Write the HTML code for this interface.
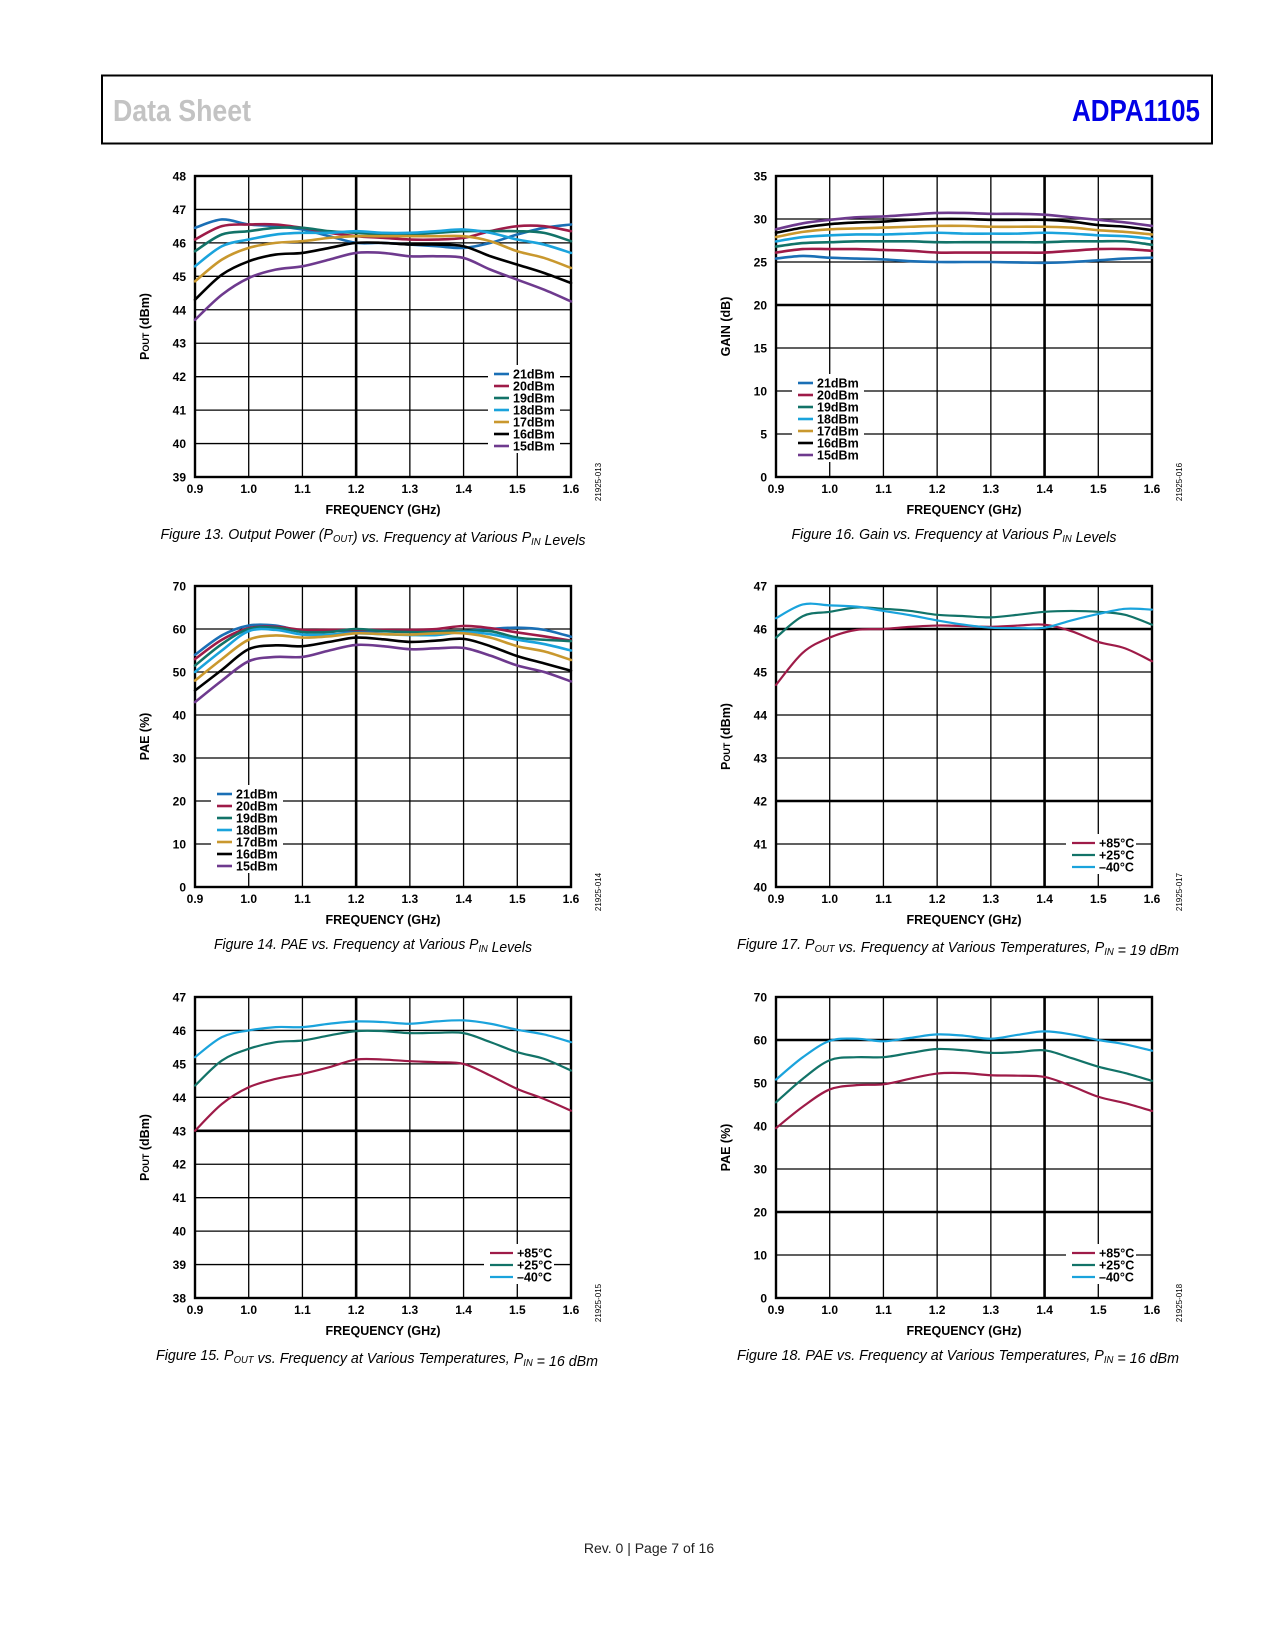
<!DOCTYPE html>
<html><head><meta charset="utf-8"><title>ADPA1105 Data Sheet page 7</title>
<style>
html,body{margin:0;padding:0;background:#fff;}
svg{display:block;}
text{font-family:"Liberation Sans",Arial,sans-serif;}
</style></head>
<body>
<svg id="page" width="1275" height="1650" viewBox="0 0 1275 1650" xmlns="http://www.w3.org/2000/svg">
<rect x="102" y="75.5" width="1110" height="68" fill="#fff" stroke="#000" stroke-width="2"/>
<text x="113" y="121" font-size="31" font-weight="bold" fill="#c3c3c3" textLength="138" lengthAdjust="spacingAndGlyphs">Data Sheet</text>
<text x="1200" y="121" font-size="31" font-weight="bold" fill="#0000e6" text-anchor="end" textLength="128" lengthAdjust="spacingAndGlyphs">ADPA1105</text>
<text x="649" y="1553" font-size="14" text-anchor="middle" fill="#222">Rev. 0 | Page 7 of 16</text>
<g id="charts"></g>
</svg>
<script>
const freqs = [0.9,0.95,1.0,1.05,1.1,1.15,1.2,1.25,1.3,1.35,1.4,1.45,1.5,1.55,1.6];
const xTicks = ["0.9","1.0","1.1","1.2","1.3","1.4","1.5","1.6"];
const pinLabels = ["21dBm","20dBm","19dBm","18dBm","17dBm","16dBm","15dBm"];
const tempLabels = ["+85°C","+25°C","–40°C"];
const pinColors = ["#1a6fb5","#9e1b48","#127368","#1aa3dc","#c9982e","#000000","#6e3a8e"];
const tempColors = ["#9e1b48","#127368","#1aa3dc"];

const pout21 = [46.45,46.7,46.55,46.5,46.4,46.2,46.0,46.0,45.95,45.9,45.85,46.0,46.25,46.45,46.55];
const pout20 = [46.1,46.5,46.55,46.55,46.45,46.3,46.2,46.15,46.1,46.1,46.15,46.35,46.5,46.5,46.35];
const pout19 = [45.75,46.25,46.35,46.45,46.45,46.35,46.3,46.25,46.25,46.3,46.35,46.35,46.35,46.3,46.05];
const pout18 = [45.3,45.9,46.1,46.25,46.3,46.3,46.35,46.3,46.3,46.35,46.4,46.3,46.1,45.95,45.7];
const pout17 = [44.85,45.5,45.85,46.0,46.05,46.15,46.2,46.2,46.2,46.2,46.2,46.05,45.75,45.55,45.25];
const pout16 = [44.3,45.05,45.45,45.65,45.7,45.85,46.0,46.0,45.95,45.95,45.9,45.6,45.35,45.1,44.8];
const pout15 = [43.7,44.45,44.95,45.2,45.3,45.5,45.7,45.7,45.6,45.6,45.55,45.2,44.9,44.6,44.25];

const gain21 = [25.4,25.7,25.5,25.4,25.3,25.1,25.0,25.0,25.0,24.95,24.9,25.0,25.2,25.4,25.5];
const gain20 = [26.1,26.5,26.5,26.5,26.4,26.3,26.1,26.1,26.1,26.1,26.1,26.3,26.5,26.5,26.3];
const gain19 = [26.8,27.2,27.3,27.4,27.4,27.4,27.3,27.3,27.3,27.3,27.3,27.4,27.4,27.4,27.0];
const gain18 = [27.4,27.9,28.1,28.2,28.2,28.3,28.4,28.3,28.3,28.3,28.4,28.3,28.1,28.0,27.7];
const gain17 = [27.9,28.5,28.8,28.9,29.0,29.1,29.2,29.2,29.1,29.1,29.1,29.0,28.7,28.5,28.2];
const gain16 = [28.4,29.0,29.4,29.6,29.7,29.9,30.0,30.0,29.9,29.9,29.9,29.7,29.3,29.1,28.7];
const gain15 = [28.8,29.5,29.9,30.2,30.3,30.5,30.7,30.7,30.6,30.6,30.5,30.2,29.9,29.6,29.2];

const pae21 = [54,58.5,60.8,60.8,59.5,59.5,59.5,59.5,59.5,59.5,59.5,60,60.3,59.8,58.2];
const pae20 = [53,57.5,60.2,60.5,59.8,59.8,59.8,59.8,59.8,60,60.7,60.2,59.2,58.3,57.3];
const pae19 = [51.5,56.5,60,60.3,59.3,59.3,60,59.5,59.3,59.3,59.5,59.5,58,57.5,57.2];
const pae18 = [50,55,59.5,59.8,58.7,58.7,59,58.8,58.6,58.6,59.3,58.8,57.5,56.5,55];
const pae17 = [48,53,57.5,58.5,58,58.3,59,58.8,58.7,59,59,58,56,54.8,52.8];
const pae16 = [45.7,50.5,55.3,56.2,56,57,58,57.6,57,57.3,57.7,56,53.7,52,50.3];
const pae15 = [43,48,52.5,53.5,53.5,55,56.3,56,55.3,55.5,55.6,53.8,51.5,50,47.8];

const poutT19_85 = [44.7,45.45,45.8,45.98,46.0,46.05,46.08,46.07,46.05,46.08,46.1,45.95,45.7,45.55,45.25];
const poutT19_25 = [45.8,46.3,46.4,46.5,46.47,46.42,46.33,46.3,46.27,46.33,46.4,46.42,46.4,46.33,46.1];
const poutT19_m40 = [46.25,46.57,46.55,46.52,46.42,46.32,46.2,46.1,46.03,46.02,46.03,46.2,46.35,46.47,46.45];

const poutT16_85 = [43.0,43.8,44.3,44.55,44.7,44.9,45.13,45.13,45.08,45.05,45.0,44.65,44.25,43.95,43.6];
const poutT16_25 = [44.35,45.1,45.45,45.65,45.7,45.85,45.98,45.98,45.92,45.93,45.92,45.65,45.35,45.15,44.8];
const poutT16_m40 = [45.2,45.8,46.0,46.1,46.1,46.2,46.27,46.25,46.2,46.27,46.3,46.2,46.02,45.88,45.65];

const paeT16_85 = [39.5,44.5,48.5,49.5,49.7,51,52.2,52.3,51.8,51.7,51.4,49.3,46.8,45.3,43.5];
const paeT16_25 = [45.5,51,55.3,56,56,57,57.9,57.6,57,57.2,57.6,55.8,53.8,52.3,50.5];
const paeT16_m40 = [50.8,56,59.8,60.3,59.7,60.5,61.3,61,60.3,61.2,62,61.3,60,59,57.5];

const NS = "http://www.w3.org/2000/svg";
const root = document.getElementById("charts");
function mk(tag, attrs, parent){
  const e = document.createElementNS(NS, tag);
  for (const k in attrs) e.setAttribute(k, attrs[k]);
  parent.appendChild(e);
  return e;
}
function smoothPath(pts){
  let d = "M" + pts[0][0].toFixed(2) + "," + pts[0][1].toFixed(2);
  for (let i = 0; i < pts.length - 1; i++){
    const p0 = pts[Math.max(0,i-1)], p1 = pts[i], p2 = pts[i+1], p3 = pts[Math.min(pts.length-1,i+2)];
    const c1x = p1[0] + (p2[0]-p0[0])/6, c1y = p1[1] + (p2[1]-p0[1])/6;
    const c2x = p2[0] - (p3[0]-p1[0])/6, c2y = p2[1] - (p3[1]-p1[1])/6;
    d += " C" + c1x.toFixed(2) + "," + c1y.toFixed(2) + " " + c2x.toFixed(2) + "," + c2y.toFixed(2) + " " + p2[0].toFixed(2) + "," + p2[1].toFixed(2);
  }
  return d;
}

function drawChart(cfg){
  const g = mk("g", {}, root);
  
  
  const L = cfg.left, R = cfg.left + 376, T = cfg.top, B = cfg.top + 301;
  const xs = v => L + (v - 0.9) / 0.7 * (R - L);
  const ys = v => B - (v - cfg.ymin) / (cfg.ymax - cfg.ymin) * (B - T);
  const nY = Math.round((cfg.ymax - cfg.ymin) / cfg.ystep);
  for (let i = 0; i <= nY; i++){
    const v = cfg.ymin + i * cfg.ystep, y = ys(v);
    const thick = cfg.thickY.indexOf(v) >= 0;
    const ln = mk("line", {x1:L, x2:R, y1:y, y2:y, stroke:"#000", "stroke-width": thick ? 2.6 : 1.3}, g);
    
    
    const t = mk("text", {x:L-9, y:y+4.5, "font-size":12, "font-weight":"bold", "text-anchor":"end"}, g);
    t.textContent = cfg.yLabels[i];
    
    
  }
  xTicks.forEach((lab, i) => {
    const v = parseFloat(lab), x = xs(v);
    const thick = cfg.thickX === v;
    const ln = mk("line", {x1:x, x2:x, y1:T, y2:B, stroke:"#000", "stroke-width": thick ? 2.6 : 1.3}, g);
    
    
    const t = mk("text", {x:x, y:B+16, "font-size":12, "font-weight":"bold", "text-anchor":"middle"}, g);
    t.textContent = lab;
    
    
  });
  const frame = mk("rect", {x:L, y:T, width:R-L, height:B-T, fill:"none", stroke:"#000", "stroke-width":2.4}, g);
  
  
  cfg.series.forEach((s, i) => {
    const pts = freqs.map((f, k) => [xs(f), ys(s[k])]);
    const p = mk("path", {d:smoothPath(pts), fill:"none", stroke:cfg.colors[i], "stroke-width":cfg.lw, "stroke-linejoin":"round", "stroke-linecap":"round"}, g);
    
    
  });
  const lg = mk("g", {}, g);
  
  
  const rowH = 12;
  const lx = cfg.legend.x, ly = cfg.legend.y;
  const bg = mk("rect", {x:lx-6, y:ly-9, width:cfg.legend.w, height:rowH*cfg.labels.length + 4, fill:"#fff"}, lg);
  
  
  cfg.labels.forEach((lab, i) => {
    const y = ly + i * rowH;
    const ln = mk("line", {x1:lx, x2:lx+cfg.legend.len, y1:y, y2:y, stroke:cfg.colors[i], "stroke-width":cfg.lw}, lg);
    
    
    const t = mk("text", {x:lx+cfg.legend.len+4, y:y+4.5, "font-size":12.5, "font-weight":"bold"}, lg);
    t.textContent = lab;
    
    
  });
  const xt = mk("text", {x:(L+R)/2, y:B+37, "font-size":12.5, "font-weight":"bold", "text-anchor":"middle"}, g);
  xt.textContent = "FREQUENCY (GHz)";
  
  
  const yt = mk("text", {x:0, y:0, "font-size":12.5, "font-weight":"bold", "text-anchor":"middle", transform:"translate(" + (L-46) + "," + ((T+B)/2) + ") rotate(-90)"}, g);
  yt.innerHTML = cfg.yTitle;
  
  
  const fid = mk("text", {x:0, y:0, "font-size":8, "text-anchor":"middle", transform:"translate(" + (R+30) + "," + (B+5) + ") rotate(-90)"}, g);
  fid.textContent = cfg.figId;
  
  
  const cap = mk("text", {x:(L+R)/2 - 10 + (cfg.capDx||0), y:B+62, "font-size":15, "font-style":"italic", "text-anchor":"middle", textLength:cfg.capW, lengthAdjust:"spacingAndGlyphs"}, g);
  cap.innerHTML = cfg.caption;
  
  
}

const sub = s => '<tspan font-size="10" dy="3">' + s + '</tspan><tspan dy="-3"></tspan>';
const poutTitle = 'P<tspan font-size="9" dy="0">OUT</tspan> (dBm)';

drawChart({name:"chart-figure-13-pout-vs-frequency", left:195, top:176, ymin:39, ymax:48, ystep:1,
  yLabels:["39","40","41","42","43","44","45","46","47","48"], thickY:[], thickX:1.2,
  series:[pout21,pout20,pout19,pout18,pout17,pout16,pout15], colors:pinColors, labels:pinLabels, lw:2.6,
  legend:{x:494, y:374, len:15, w:72}, yTitle:poutTitle, figId:"21925-013",
  caption:"Figure 13. Output Power (P" + sub("OUT") + ") vs. Frequency at Various P" + sub("IN") + " Levels", capW:425});

drawChart({name:"chart-figure-16-gain-vs-frequency", left:776, top:176, ymin:0, ymax:35, ystep:5,
  yLabels:["0","5","10","15","20","25","30","35"], thickY:[20], thickX:1.4,
  series:[gain21,gain20,gain19,gain18,gain17,gain16,gain15], colors:pinColors, labels:pinLabels, lw:2.6,
  legend:{x:798, y:383, len:15, w:72}, yTitle:"GAIN (dB)", figId:"21925-016",
  caption:"Figure 16. Gain vs. Frequency at Various P" + sub("IN") + " Levels", capW:325});

drawChart({name:"chart-figure-14-pae-vs-frequency", left:195, top:586, ymin:0, ymax:70, ystep:10,
  yLabels:["0","10","20","30","40","50","60","70"], thickY:[], thickX:1.2,
  series:[pae21,pae20,pae19,pae18,pae17,pae16,pae15], colors:pinColors, labels:pinLabels, lw:2.6,
  legend:{x:217, y:794, len:15, w:72}, yTitle:"PAE (%)", figId:"21925-014",
  caption:"Figure 14. PAE vs. Frequency at Various P" + sub("IN") + " Levels", capW:318});

drawChart({name:"chart-figure-17-pout-vs-frequency-temperature", left:776, top:586, ymin:40, ymax:47, ystep:1,
  yLabels:["40","41","42","43","44","45","46","47"], thickY:[46,42], thickX:1.4,
  series:[poutT19_85,poutT19_25,poutT19_m40], colors:tempColors, labels:tempLabels, lw:2.2,
  legend:{x:1072, y:843, len:23, w:70}, yTitle:poutTitle, figId:"21925-017",
  caption:"Figure 17. P" + sub("OUT") + " vs. Frequency at Various Temperatures, P" + sub("IN") + " = 19 dBm", capW:442, capDx:4});

drawChart({name:"chart-figure-15-pout-vs-frequency-temperature", left:195, top:997, ymin:38, ymax:47, ystep:1,
  yLabels:["38","39","40","41","42","43","44","45","46","47"], thickY:[43], thickX:1.2,
  series:[poutT16_85,poutT16_25,poutT16_m40], colors:tempColors, labels:tempLabels, lw:2.2,
  legend:{x:490, y:1253, len:23, w:70}, yTitle:poutTitle, figId:"21925-015",
  caption:"Figure 15. P" + sub("OUT") + " vs. Frequency at Various Temperatures, P" + sub("IN") + " = 16 dBm", capW:442, capDx:4});

drawChart({name:"chart-figure-18-pae-vs-frequency-temperature", left:776, top:997, ymin:0, ymax:70, ystep:10,
  yLabels:["0","10","20","30","40","50","60","70"], thickY:[60,20], thickX:1.4,
  series:[paeT16_85,paeT16_25,paeT16_m40], colors:tempColors, labels:tempLabels, lw:2.2,
  legend:{x:1072, y:1253, len:23, w:70}, yTitle:"PAE (%)", figId:"21925-018",
  caption:"Figure 18. PAE vs. Frequency at Various Temperatures, P" + sub("IN") + " = 16 dBm", capW:442, capDx:4});
</script>
</body></html>
